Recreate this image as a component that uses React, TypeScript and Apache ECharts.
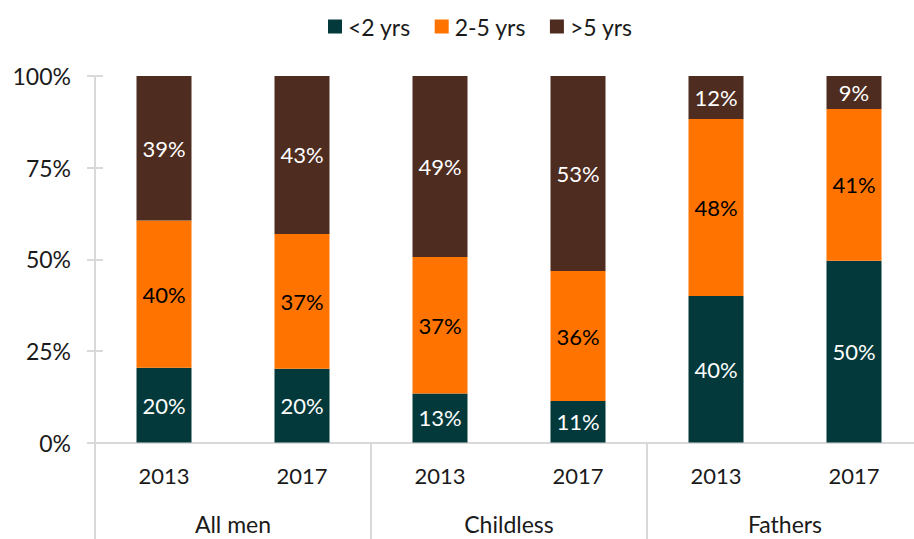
import React, { useEffect, useRef } from "react";
import * as echarts from "echarts";

const years = ["2013", "2017", "2013", "2017", "2013", "2017"];
const groups = ["All men", "Childless", "Fathers"];
const seriesNames = ["<2 yrs", "2-5 yrs", ">5 yrs"];
const under2 = [20.4, 20.1, 13.4, 11.3, 40.0, 49.6];
const twoToFive = [40.2, 36.8, 37.2, 35.5, 48.3, 41.4];
const over5 = [39.4, 43.1, 49.4, 53.2, 11.7, 9.0];
const yTicks = [0, 25, 50, 75, 100];

const colors = ["#03393A", "#FF7400", "#4E2C1F"];
const labelColors = ["#FFFFFF", "#000000", "#FFFFFF"];
const FONT = "Lato";

export default function App() {
  const ref = useRef<HTMLDivElement>(null);
  useEffect(() => {
    document.body.style.margin = "0";
    if (!ref.current) return;
    const chart = echarts.init(ref.current, null, { renderer: "svg" });
    const values = [under2, twoToFive, over5];
    chart.setOption({
      animation: false,
      textStyle: { fontFamily: FONT },
      legend: {
        top: 10,
        left: 323,
        icon: "rect",
        itemWidth: 14,
        itemHeight: 14,
        itemGap: 24,
        textStyle: { fontSize: 23, color: "#1a1a1a", fontFamily: FONT, padding: [0, 0, 0, 1] },
        data: seriesNames,
      },
      grid: {
        left: 95,
        width: 828,
        top: 76,
        bottom: 96.5,
        containLabel: false,
        outerBoundsMode: "none",
      },
      xAxis: [
        {
          type: "category",
          data: years,
          position: "bottom",
          axisLine: { show: true, lineStyle: { color: "#D9D9D9", width: 2 } },
          axisTick: { show: false },
          axisLabel: { fontSize: 22, color: "#1a1a1a", margin: 22, fontFamily: FONT },
        },
        {
          type: "category",
          data: groups,
          position: "bottom",
          axisLine: { show: false },
          axisTick: { show: true, length: 100, lineStyle: { color: "#D9D9D9", width: 2 } },
          axisLabel: { fontSize: 23, color: "#1a1a1a", margin: 70, fontFamily: FONT },
        },
      ],
      yAxis: [
        {
          type: "value",
          min: 0,
          max: 100,
          interval: 25,
          splitLine: { show: false },
          axisLine: { show: true, lineStyle: { color: "#D9D9D9", width: 2 } },
          axisTick: { show: true, length: 8, lineStyle: { color: "#D9D9D9", width: 2 } },
          axisLabel: {
            fontSize: 23,
            color: "#1a1a1a",
            margin: 24,
            fontFamily: FONT,
            formatter: (v: number) => (yTicks.includes(v) ? v + "%" : ""),
          },
        },
        {
          type: "value",
          min: 0,
          max: 100,
          interval: 25,
          position: "left",
          splitLine: { show: false },
          axisLine: { show: false },
          axisTick: { show: true, inside: true, length: 8, lineStyle: { color: "#D9D9D9", width: 2 } },
          axisLabel: { show: false },
        },
      ],
      series: seriesNames.map((name, i) => ({
        name,
        type: "bar",
        stack: "total",
        xAxisIndex: 0,
        yAxisIndex: 0,
        barWidth: 55,
        data: values[i],
        itemStyle: { color: colors[i] },
        label: {
          show: true,
          position: "inside",
          fontSize: 22,
          fontFamily: FONT,
          color: labelColors[i],
          formatter: (p: any) => Math.round(p.value) + "%",
        },
      })),
    });
    return () => chart.dispose();
  }, []);
  return <div ref={ref} style={{ width: 914, height: 539 }} />;
}
